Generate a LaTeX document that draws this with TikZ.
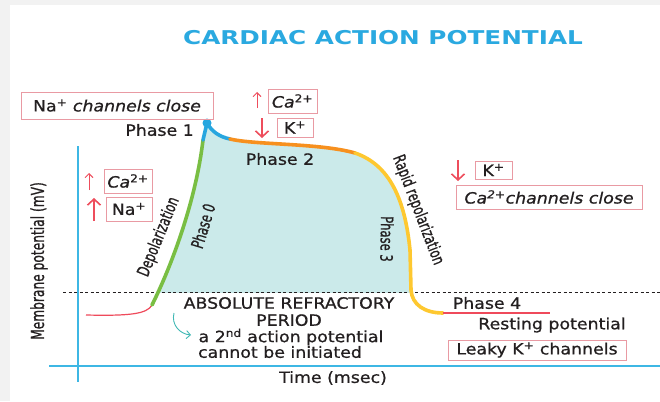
\documentclass[tikz,border=0pt]{standalone}
\usepackage{fontspec}
\setmainfont{DejaVu Sans}
\newfontfamily\hand{DejaVu Sans}[FakeStretch=1.12, FakeBold=0.7]
\newfontfamily\handslim{DejaVu Sans}[FakeStretch=0.68, FakeBold=0.8]
\newfontfamily\titlefont{DejaVu Sans}[FakeStretch=1.3]
\usetikzlibrary{arrows.meta, positioning, calc}

\definecolor{pagegray}{HTML}{F2F2F2}
\definecolor{titleblue}{HTML}{2AA9E0}
\definecolor{axisblue}{HTML}{3DB7E4}
\definecolor{ink}{HTML}{231F20}
\definecolor{boxpink}{HTML}{E99AA3}
\definecolor{arrowred}{HTML}{EE4D5C}
\definecolor{depgreen}{HTML}{79BE43}
\definecolor{peakblue}{HTML}{27A6DF}
\definecolor{platorange}{HTML}{F7901E}
\definecolor{repyellow}{HTML}{FEC830}
\definecolor{restred}{HTML}{EF4A5B}
\definecolor{areafill}{HTML}{CBEAEA}
\definecolor{noteteal}{HTML}{3FB8B4}

\begin{document}
\begin{tikzpicture}[
			x = 1pt, y = -1pt,
			> = {Straight Barb[length=4pt,width=8pt]},
			lbl/.style = {text=ink, font=\hand\fontsize{15.5}{18}\selectfont, inner sep=0pt},
			slim/.style = {text=ink, font=\handslim\fontsize{17}{19}\selectfont, inner sep=0pt},
			ionbox/.style = {lbl, draw=boxpink, line width=0.9pt, inner sep=2pt},
			ionup/.style = {->, draw=arrowred, line width=0.9pt},
			ionbig/.style = {->, draw=arrowred, line width=1.6pt, >={Straight Barb[length=6pt,width=13pt]}},
			phasecurve/.style = {line width=3.6pt, line cap=round, line join=round},
			restline/.style = {draw=restred, line width=1.2pt},
			axisline/.style = {draw=axisblue, line width=1.3pt},
			threshold/.style = {draw=ink, line width=1pt, dash pattern=on 3pt off 2.5pt}
			]
			\useasboundingbox (0,0) rectangle (660,401);
			
			% Background
			\fill[pagegray] (0,0) rectangle (660,401);
			\fill[white] (10,5) rectangle (660,401);
			
			% Define curve points
			\coordinate (rest0) at (86,315);
			\coordinate (dep0) at (152,305);
			\coordinate (dep1) at (203,140);
			\coordinate (peak) at (207,123);
			\coordinate (plat0) at (230,139);
			\coordinate (plat1) at (355,153);
			\coordinate (rep0) at (410,250);
			\coordinate (rep1) at (411,290);
			\coordinate (rest1) at (443,313);
			\coordinate (rest2) at (550,313);
			
			% Area above threshold
			\begin{scope}
				\clip (10,5) rectangle (660,292);
				\fill[areafill] (dep0) .. controls (172,265) and (196,200) .. (dep1) -- (peak)
					.. controls (212,132) and (220,137) .. (plat0)
					.. controls (255,145) and (320,143) .. (plat1)
					.. controls (390,165) and (405,200) .. (rep0) -- (rep1)
					.. controls (412,305) and (425,313) .. (rest1) -- cycle;
			\end{scope}
			
			% Define axes
			\coordinate (ytop) at (78,146);
			\coordinate (ybot) at (78,382);
			\coordinate (xleft) at (49,366);
			\coordinate (xright) at (660,366);
			\coordinate (thr0) at (63,292);
			\coordinate (thr1) at (660,292);
			\draw[axisline] (ytop) -- (ybot);
			\draw[axisline] (xleft) -- (xright);
			\draw[threshold] (thr0) -- (thr1);
			
			% Define phases
			\draw[restline] (rest0) .. controls (130,316) and (147,314) .. (dep0);
			\draw[phasecurve, depgreen] (dep0) .. controls (172,265) and (196,200) .. (dep1);
			\draw[phasecurve, peakblue] (dep1) -- (peak) .. controls (212,132) and (220,137) .. (plat0);
			\draw[phasecurve, platorange] (plat0) .. controls (255,145) and (320,143) .. (plat1);
			\draw[phasecurve, repyellow] (plat1) .. controls (390,165) and (405,200) .. (rep0) -- (rep1)
				.. controls (412,305) and (425,313) .. (rest1);
			\draw[restline] (rest1) -- (rest2);
			\fill[peakblue] (peak) circle (4.5);
			
			% Title
			\node[text=titleblue, font=\titlefont\bfseries\fontsize{19}{22}\selectfont, inner sep=0pt] (title) at (383,38) {CARDIAC ACTION POTENTIAL};
			
			% Ion boxes
			\node[ionbox, minimum width=192pt, minimum height=27pt] (naclose) at (117,105.5) {Na\textsuperscript{+} \textit{channels close}};
			\node[ionbox, minimum width=49pt, minimum height=24pt] (caT) at (292.5,101) {\textit{Ca}\textsuperscript{2+}};
			\node[ionbox, minimum width=36pt, minimum height=19pt] (kT) at (295,127.5) {K\textsuperscript{+}};
			\node[ionbox, minimum width=48pt, minimum height=24pt] (caL) at (128,181) {\textit{Ca}\textsuperscript{2+}};
			\node[ionbox, minimum width=46pt, minimum height=24pt] (naL) at (129,209) {Na\textsuperscript{+}};
			\node[ionbox, minimum width=37pt, minimum height=18pt] (kR) at (493.5,170) {K\textsuperscript{+}};
			\node[ionbox, minimum width=186pt, minimum height=24pt] (caclose) at (549,197) {\textit{Ca\textsuperscript{2+}channels close}};
			\node[ionbox, minimum width=178pt, minimum height=20pt] (leaky) at (537,350) {Leaky K\textsuperscript{+} channels};
			
			% Ion arrows
			\coordinate (caTa) at (257,108); \coordinate (caTb) at (257,92);
			\coordinate (kTa) at (262,118); \coordinate (kTb) at (262,138);
			\coordinate (caLa) at (89,190); \coordinate (caLb) at (89,173);
			\coordinate (naLa) at (94,221); \coordinate (naLb) at (94,198);
			\coordinate (kRa) at (458,160); \coordinate (kRb) at (458,181);
			\draw[ionup] (caTa) -- (caTb);
			\draw[ionbig] (kTa) -- (kTb);
			\draw[ionup] (caLa) -- (caLb);
			\draw[ionbig] (naLa) -- (naLb);
			\draw[ionbig] (kRa) -- (kRb);
			
			% Phase labels
			\node[lbl, anchor=east] (ph1) at (194,130) {Phase 1};
			\node[lbl] (ph2) at (280,159) {Phase 2};
			\node[lbl] (ph4) at (487,303) {Phase 4};
			\node[lbl] (resting) at (552,325) {Resting potential};
			\node[slim, rotate=73] (ph0) at (203,226) {Phase 0};
			\node[slim, rotate=68] (depol) at (159,237) {Depolarization};
			\node[slim, rotate=-91] (ph3) at (387,239) {Phase 3};
			\node[slim, rotate=-69] (rapid) at (418,210) {Rapid repolarization};
			
			% Refractory period
			\node[lbl] (arp) at (289,303) {ABSOLUTE REFRACTORY};
			\node[lbl, below=5pt of arp] (period) {PERIOD};
			\node[lbl] (second) at (291,337) {a 2\textsuperscript{nd} action potential};
			\node[lbl] (initiate) at (280,352) {cannot be initiated};
			\coordinate (noteA) at (174,313);
			\coordinate (noteB) at (191,335);
			\draw[->, draw=noteteal, line width=0.9pt] (noteA) .. controls (171,325) and (180,334) .. (noteB);
			
			% Axis labels
			\node[lbl] (time) at (333,378) {Time (msec)};
			\node[slim, font=\handslim\fontsize{18}{20}\selectfont, rotate=90] (ylabel) at (39,261) {Membrane potential (mV)};
			
		\end{tikzpicture}
\end{document}
